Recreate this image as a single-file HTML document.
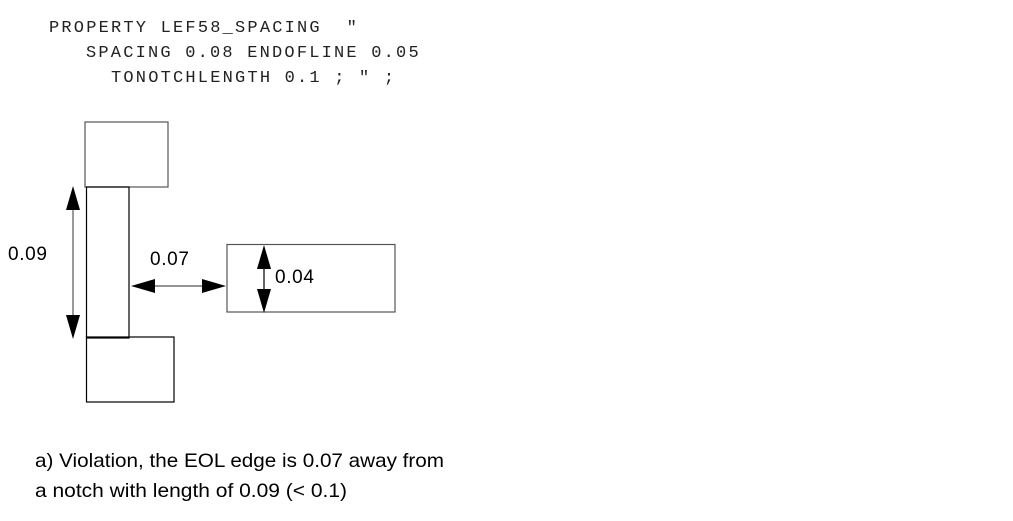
<!DOCTYPE html>
<html><head><meta charset="utf-8"><style>
html,body{margin:0;padding:0;background:#fff;width:1013px;height:521px;overflow:hidden}
</style></head><body>
<svg width="1013" height="521" xmlns="http://www.w3.org/2000/svg">
<g font-family="Liberation Mono, monospace" font-size="17" fill="#222" letter-spacing="2.2">
<text x="49" y="32" xml:space="preserve">PROPERTY LEF58_SPACING  "</text>
<text x="86" y="57">SPACING 0.08 ENDOFLINE 0.05</text>
<text x="111" y="82">TONOTCHLENGTH 0.1 ; " ;</text>
</g>
<g fill="none" stroke="#000" stroke-width="1.2">
<rect x="85" y="122" width="83" height="65" stroke="#555"/>
<rect x="86.5" y="187" width="42.5" height="151"/>
<rect x="86.5" y="337" width="87.5" height="65"/>
<rect x="227" y="244.5" width="168" height="67.5" stroke="#555"/>
<line x1="73" y1="200" x2="73" y2="325" stroke="#555"/>
<line x1="150" y1="286" x2="205" y2="286" stroke="#555"/>
<line x1="264" y1="260" x2="264" y2="298"/>
</g>
<g fill="#000">
<polygon points="73,186 66,210 80,210"/>
<polygon points="73,339 66,315 80,315"/>
<polygon points="131,286 155,279 155,293"/>
<polygon points="226,286 202,279 202,293"/>
<polygon points="264,245 257,269 271,269"/>
<polygon points="264,313 257,289 271,289"/>
</g>
<g font-family="Liberation Sans, sans-serif" font-size="19" fill="#000">
<text x="8" y="260" textLength="39">0.09</text>
<text x="150" y="265" textLength="39">0.07</text>
<text x="275" y="283" textLength="39">0.04</text>
</g>
<g font-family="Liberation Sans, sans-serif" font-size="19.5" fill="#000">
<text x="35" y="467" textLength="409" lengthAdjust="spacingAndGlyphs">a) Violation, the EOL edge is 0.07 away from</text>
<text x="35" y="497" textLength="312" lengthAdjust="spacingAndGlyphs">a notch with length of 0.09 (&lt; 0.1)</text>
</g>
</svg>
</body></html>
